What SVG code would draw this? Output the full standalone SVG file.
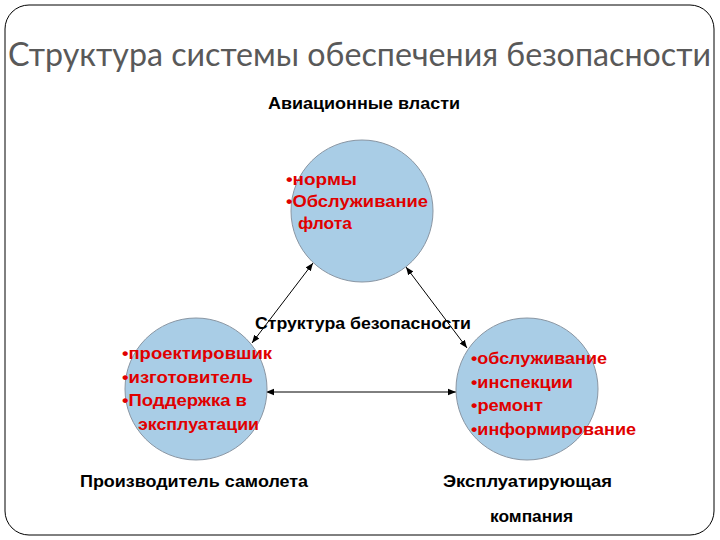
<svg xmlns="http://www.w3.org/2000/svg" width="720" height="540" viewBox="0 0 720 540">
<defs>
<marker id="ah" viewBox="0 0 10 10" refX="10" refY="5" markerWidth="8" markerHeight="8" orient="auto-start-reverse" markerUnits="userSpaceOnUse">
<path d="M0,1 L10,5 L0,9 z" fill="#000"/>
</marker>
<style>
.c{fill:#a9cde6;stroke:#8a96a3;stroke-width:1}
.r{font-family:"Liberation Sans",Arial,sans-serif;font-weight:bold;font-size:17px;fill:#e00000}
.b{font-family:"Liberation Sans",Arial,sans-serif;font-weight:bold;font-size:16px;fill:#000}
.ln{stroke:#000;stroke-width:1;fill:none}
</style>
</defs>
<rect x="0" y="0" width="720" height="540" fill="#fff"/>
<rect x="5" y="5" width="709" height="530" rx="24" ry="24" fill="none" stroke="#000" stroke-width="1"/>
<text x="8" y="66" font-family="Lato,'Open Sans',sans-serif" font-size="33" fill="#595959" textLength="703" lengthAdjust="spacingAndGlyphs">Структура системы обеспечения безопасности</text>
<text class="b" x="268" y="109" textLength="192" lengthAdjust="spacingAndGlyphs">Авиационные власти</text>
<g id="connectors">
<line class="ln" x1="252" y1="343" x2="313" y2="263" marker-start="url(#ah)" marker-end="url(#ah)"/>
<line class="ln" x1="406" y1="267" x2="467" y2="348" marker-start="url(#ah)" marker-end="url(#ah)"/>
<line class="ln" x1="266" y1="392" x2="456" y2="392" marker-start="url(#ah)" marker-end="url(#ah)"/>
</g>
<g id="top">
<circle class="c" cx="362" cy="211" r="71"/>
<text class="r" x="286" y="185" textLength="71" lengthAdjust="spacingAndGlyphs">•нормы</text>
<text class="r" x="286" y="207" textLength="142" lengthAdjust="spacingAndGlyphs">•Обслуживание</text>
<text class="r" x="298" y="229" textLength="54" lengthAdjust="spacingAndGlyphs">флота</text>
</g>
<g id="left">
<circle class="c" cx="196" cy="389" r="71"/>
<text class="r" x="122" y="359" textLength="150" lengthAdjust="spacingAndGlyphs">•проектировшик</text>
<text class="r" x="122" y="383" textLength="131" lengthAdjust="spacingAndGlyphs">•изготовитель</text>
<text class="r" x="122" y="406" textLength="125" lengthAdjust="spacingAndGlyphs">•Поддержка в</text>
<text class="r" x="138" y="430" textLength="121" lengthAdjust="spacingAndGlyphs">эксплуатации</text>
</g>
<g id="right">
<circle class="c" cx="527" cy="389" r="71"/>
<text class="r" x="471" y="364" textLength="136" lengthAdjust="spacingAndGlyphs">•обслуживание</text>
<text class="r" x="471" y="388" textLength="102" lengthAdjust="spacingAndGlyphs">•инспекции</text>
<text class="r" x="471" y="411" textLength="72" lengthAdjust="spacingAndGlyphs">•ремонт</text>
<text class="r" x="471" y="435" textLength="165" lengthAdjust="spacingAndGlyphs">•информирование</text>
</g>
<text class="b" x="255" y="329" textLength="216" lengthAdjust="spacingAndGlyphs">Структура безопасности</text>
<text class="b" x="80" y="487" textLength="228" lengthAdjust="spacingAndGlyphs">Производитель самолета</text>
<text class="b" x="443" y="487" textLength="169" lengthAdjust="spacingAndGlyphs">Эксплуатирующая</text>
<text class="b" x="490" y="522" textLength="83" lengthAdjust="spacingAndGlyphs">компания</text>
</svg>
